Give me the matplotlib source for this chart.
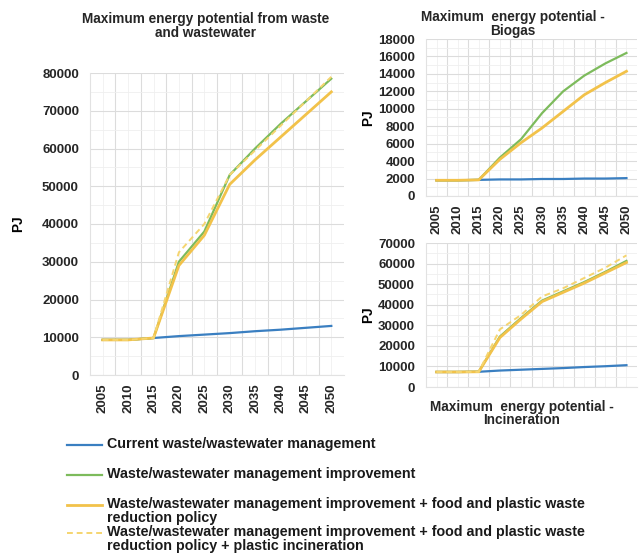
import matplotlib.pyplot as plt
import numpy as np
from matplotlib.lines import Line2D

plt.rcParams['font.family'] = ['Liberation Sans', 'DejaVu Sans']
plt.rcParams['font.weight'] = 'bold'

# years on the category axis
years = ['2005', '2010', '2015', '2020', '2025', '2030', '2035', '2040', '2045', '2050']

# total potential from waste and wastewater (PJ)
total_current = [9300, 9300, 9800, 10300, 10700, 11100, 11600, 12000, 12500, 13000]
total_improve = [9300, 9300, 9800, 30000, 38000, 53000, 60000, 66500, 72500, 78500]
total_reduce = [9300, 9300, 9800, 29000, 37000, 50500, 57000, 63000, 69000, 75000]
total_incin = [9300, 9300, 9800, 32500, 40000, 53000, 59500, 66000, 72500, 79000]

# biogas (PJ)
bio_current = [1800, 1800, 1850, 1900, 1900, 1950, 1950, 2000, 2000, 2050]
bio_improve = [1800, 1800, 1850, 4400, 6500, 9500, 12000, 13800, 15200, 16400]
bio_reduce = [1800, 1800, 1850, 4200, 6100, 7800, 9700, 11600, 13000, 14300]

# incineration (PJ)
inc_current = [7300, 7300, 7400, 8000, 8400, 8800, 9200, 9700, 10100, 10600]
inc_improve = [7300, 7300, 7400, 24500, 33500, 42000, 46500, 51000, 56000, 61300]
inc_reduce = [7300, 7300, 7400, 24000, 33000, 41500, 46000, 50500, 55500, 60500]
inc_incin = [7300, 7300, 7400, 28000, 35000, 44000, 48000, 53000, 58000, 64000]

labels = [
    'Current waste/wastewater management',
    'Waste/wastewater management improvement',
    'Waste/wastewater management improvement + food and plastic waste\nreduction policy',
    'Waste/wastewater management improvement + food and plastic waste\nreduction policy + plastic incineration',
]

BLUE = '#3a7fc1'
GREEN = '#7dbb5c'
YELLOW = '#f2c24a'
DASH = '#f5d570'
styles = [
    dict(color=BLUE, lw=1.6),
    dict(color=GREEN, lw=1.6),
    dict(color=YELLOW, lw=2.0),
    dict(color=DASH, lw=1.4, ls=(0, (3, 2))),
]

W, H = 640, 558
FS = 9.8
TICK_FS = 9.5
LEG_FS = 10.3
fig = plt.figure(figsize=(W / 100, H / 100), dpi=100)


def box(left, top, right, bottom):
    return [left / W, 1 - bottom / H, (right - left) / W, (bottom - top) / H]


ax_main = fig.add_axes(box(90, 73, 344, 375))
ax_bio = fig.add_axes(box(426, 39, 637, 196))
ax_inc = fig.add_axes(box(426, 243, 637, 387))

x = np.arange(len(years))


def style(ax, ymax, step, show_x=True):
    ax.set_xlim(-0.5, len(years) - 0.5)
    ax.set_ylim(0, ymax)
    ax.set_yticks(np.arange(0, ymax + 1, step))
    ax.set_yticks(np.arange(0, ymax + 1, step / 2), minor=True)
    ax.set_xticks(x)
    ax.set_xticks(x[:-1] + 0.5, minor=True)
    if show_x:
        ax.set_xticklabels(years, rotation=90)
    else:
        ax.set_xticklabels([])
    ax.tick_params(axis='both', which='both', length=0, labelsize=TICK_FS,
                   labelcolor='#262626')
    ax.tick_params(axis='y', pad=8)
    ax.tick_params(axis='x', pad=6)
    ax.grid(True, which='major', axis='y', color='#dcdcdc', lw=0.8)
    ax.grid(True, which='minor', axis='y', color='#efefef', lw=0.6)
    ax.grid(True, which='minor', axis='x', color='#dcdcdc', lw=0.8)
    ax.grid(True, which='major', axis='x', color='#f0f0f0', lw=0.6)
    ax.set_axisbelow(True)
    for side in ['top', 'right']:
        ax.spines[side].set_visible(False)
    for side in ['left', 'bottom']:
        ax.spines[side].set_color('#e2e2e2')
        ax.spines[side].set_linewidth(0.8)


# main chart
for vals, st in zip([total_current, total_improve, total_reduce, total_incin], styles):
    ax_main.plot(x, vals, **st)
style(ax_main, 80000, 10000)
ax_main.set_title('Maximum energy potential from waste\nand wastewater',
                  fontsize=FS, fontweight='bold', color='#262626', pad=26,
                  linespacing=1.0, x=0.455)
ax_main.set_ylabel('PJ', fontsize=FS, fontweight='bold', labelpad=12)

# biogas
for vals, st in zip([bio_current, bio_improve, bio_reduce], styles):
    ax_bio.plot(x, vals, **st)
style(ax_bio, 18000, 2000)
ax_bio.set_title('Maximum  energy potential -\nBiogas', fontsize=FS,
                 fontweight='bold', color='#262626', pad=3, linespacing=1.0,
                 x=0.41)
ax_bio.set_ylabel('PJ', fontsize=FS, fontweight='bold', labelpad=2)

# incineration
for vals, st in zip([inc_current, inc_improve, inc_reduce, inc_incin], styles):
    ax_inc.plot(x, vals, **st)
style(ax_inc, 70000, 10000, show_x=False)
ax_inc.set_xlabel('Maximum  energy potential -\nIncineration', fontsize=FS,
                  fontweight='bold', color='#262626', labelpad=3, linespacing=1.0,
                  x=0.455)
ax_inc.set_ylabel('PJ', fontsize=FS, fontweight='bold', labelpad=2)

# legend below the charts
rows = [445, 475, 505, 533]
for y, lab, st in zip(rows, labels, styles):
    fy = 1 - y / H
    fig.add_artist(Line2D([67 / W, 102 / W], [fy, fy], transform=fig.transFigure, **st))
    fig.text(107 / W, 1 - (y - 8) / H, lab, fontsize=LEG_FS, fontweight='bold',
             color='#1a1a1a', va='top', ha='left', linespacing=0.98)

fig.savefig('out.png', dpi=100)
